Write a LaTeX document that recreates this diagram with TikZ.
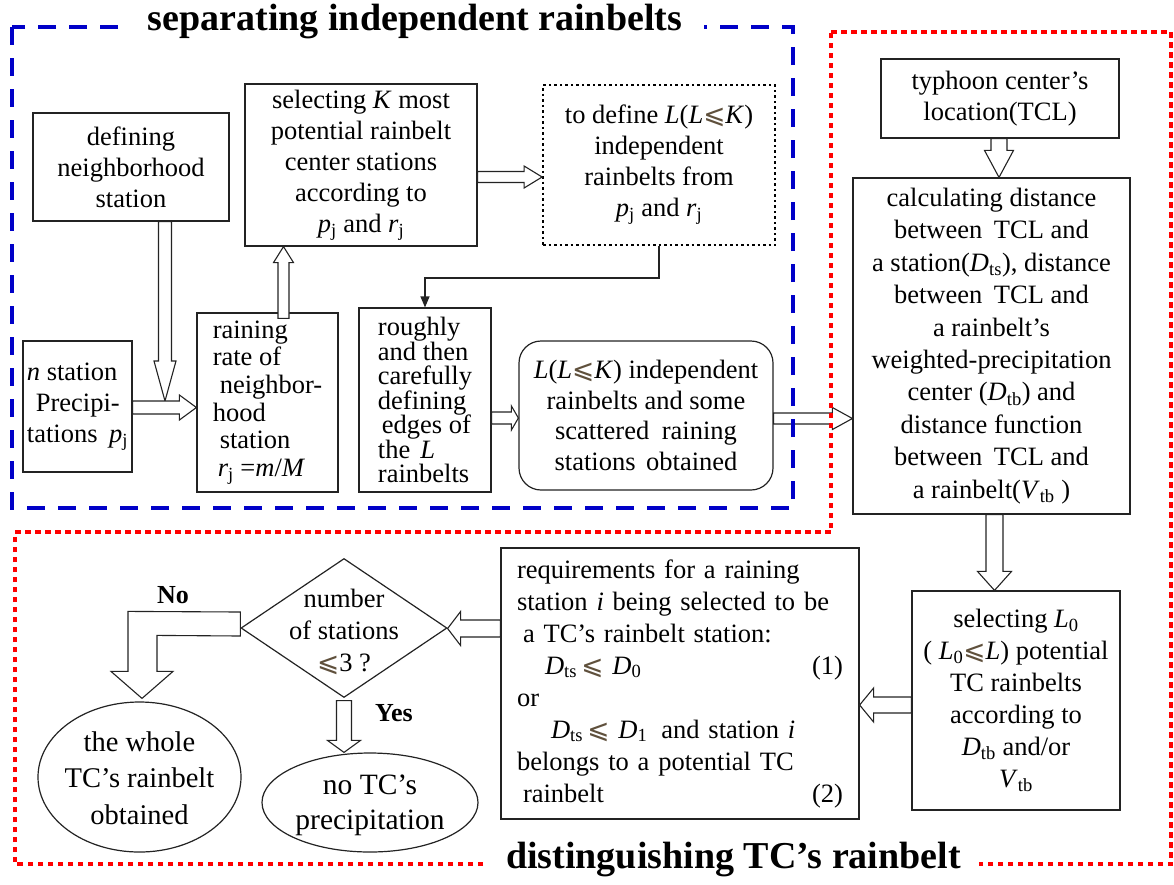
\documentclass[tikz,border=0pt]{standalone}
\usepackage{fontspec}
\setmainfont{Liberation Serif}
\newfontfamily\symfont{DejaVu Sans}
\usetikzlibrary{calc,shapes.geometric,arrows.meta}
\definecolor{bluedash}{RGB}{0,0,200}
\definecolor{reddot}{RGB}{255,0,0}
\definecolor{leqc}{RGB}{95,80,60}
\definecolor{boxline}{RGB}{35,35,35}
\newcommand\myleq{{\symfont\color{leqc}⩽}}
\newcommand\sj{\textsubscript{j}}
\newcommand\barrow[5]{%
  \coordinate (bs) at #1;
  \coordinate (be) at #2;
  \coordinate (bh) at ($(be)!#5pt!(bs)$);
  \draw[barrowline] ($(bs)!#3pt!90:(be)$) -- ($(bh)!#3pt!-90:(bs)$) -- ($(bh)!#4pt!-90:(bs)$) -- (be) -- ($(bh)!#4pt!90:(bs)$) -- ($(bh)!#3pt!90:(bs)$) -- ($(bs)!#3pt!-90:(be)$) -- cycle;}
\begin{document}
\begin{tikzpicture}[x=1pt,y=-1pt,
  box/.style={draw=boxline, line width=1.2pt, fill=white, inner sep=0pt, align=center, font=\fontsize{26.5}{31}\selectfont},
  barrowline/.style={draw=boxline, line width=1.1pt, fill=white, line join=miter},
  shapeline/.style={draw=boxline, line width=1.2pt, fill=white, inner sep=0pt},
  yesno/.style={inner sep=0pt, font=\bfseries\fontsize{26}{26}\selectfont},
  frametitle/.style={fill=white, inner ysep=1pt, font=\bfseries\fontsize{38}{38}\selectfont}]
\useasboundingbox (0,0) rectangle (1174,884);

% nodes
\node[box, minimum width=196pt, minimum height=108pt] (n1) at (131,167) {defining\\neighborhood\\station};
\node[box, minimum width=232pt, minimum height=162pt] (n2) at (361,165) {selecting \textit{K} most\\potential rainbelt\\center stations\\according to\\\textit{p}\sj{} and \textit{r}\sj};
\node[box, draw=black, dash pattern=on 2.5pt off 3pt, line width=1.8pt, minimum width=232pt, minimum height=160pt] (n3) at (659,165) {to define \textit{L}(\textit{L}\myleq\textit{K})\\independent\\rainbelts from\\\textit{p}\sj{} and \textit{r}\sj};
\node[box, align=left, minimum width=109pt, minimum height=131pt] (n4) at (77.5,406.5) {\textit{n} station\\\hspace*{9pt}Precipi-\\tations\hspace{5pt} \textit{p}\sj};
\node[box, align=left, font=\fontsize{26.5}{27.7}\selectfont, minimum width=141pt, minimum height=179pt] (n5) at (267.5,402.5) {raining\\rate of\\\hspace*{7pt}neighbor-\\hood\\\hspace*{7pt}station\\\hspace*{5pt}\textit{r}\sj{} =\textit{m}/\textit{M}};
\node[box, align=left, font=\fontsize{26.5}{24.5}\selectfont, minimum width=132pt, minimum height=184pt] (n6) at (425,400) {roughly\\and then\\carefully\\defining\\\hspace*{4pt}edges of\\the\hspace{10pt}\textit{L}\\rainbelts};
\node[box, rounded corners=22pt, font=\fontsize{26.5}{30.7}\selectfont, minimum width=254pt, minimum height=149pt] (n7) at (646,415.5) {\textit{L}(\textit{L}\myleq\textit{K}) independent\\rainbelts and some\\scattered\hspace{6pt} raining\\stations\hspace{4pt} obtained};
\node[box, minimum width=238pt, minimum height=79pt] (n8) at (1000,98.5) {typhoon center's\\location(TCL)};
\node[box, font=\fontsize{26.5}{32.4}\selectfont, minimum width=277pt, minimum height=336pt] (n9) at (991.5,346) {calculating distance\\between\hspace{5pt} TCL and\\a station(\textit{D}\textsubscript{ts}), distance\\between\hspace{5pt} TCL and\\a rainbelt's\\weighted-precipitation\\center (\textit{D}\textsubscript{tb}) and\\distance function\\between\hspace{5pt} TCL and\\a rainbelt(\textit{V}\textsubscript{tb} )};
\node[box, font=\fontsize{26.5}{32}\selectfont, minimum width=208pt, minimum height=219pt] (n10) at (1016,700.5) {selecting \textit{L}\textsubscript{0}\\( \textit{L}\textsubscript{0}\myleq\textit{L}) potential\\TC rainbelts\\according to\\\textit{D}\textsubscript{tb} and/or\\\textit{V}\textsubscript{tb}};
\node[box, align=left, text width=326pt, font=\fontsize{26.5}{32}\selectfont, minimum width=358pt, minimum height=271pt] (n11) at (680,683.5) {requirements for a raining\\station \textit{i} being selected to be\\\hspace*{6pt}a TC's rainbelt station:\\\hspace*{28pt}\textit{D}\textsubscript{ts}\,\myleq\ \textit{D}\textsubscript{0}\hskip0pt plus1filll(1)\\or\\\hspace*{34pt}\textit{D}\textsubscript{ts}\,\myleq\ \textit{D}\textsubscript{1}\hspace{14pt}and station \textit{i}\\belongs to a potential TC\\\hspace*{6pt}rainbelt\hskip0pt plus1filll(2)};

\node[shapeline, diamond, minimum width=206pt, minimum height=139pt] (dia) at (344,628) {};
\node[inner sep=0pt, align=center, font=\fontsize{26.5}{31.7}\selectfont] (dtxt) at (344,632) {number\\of stations\\\myleq3 ?};
\node[shapeline, ellipse, minimum width=203pt, minimum height=150pt] (e1) at (139.5,777) {};
\node[inner sep=0pt, align=center, font=\fontsize{28.5}{36.5}\selectfont] (e1t) at (139.5,778) {the whole\\TC's rainbelt\\obtained};
\node[shapeline, ellipse, minimum width=216pt, minimum height=99pt] (e2) at (370,802.5) {};
\node[inner sep=0pt, align=center, font=\fontsize{29.5}{35}\selectfont] (e2t) at (370,805) {no TC's\\precipitation};
\node[yesno] (no) at (173,595) {No};
\node[yesno] (yes) at (394,713) {Yes};

% block arrows
\coordinate (aS) at ($(n1.south)+(34,0)$);
\coordinate (aE) at ($(aS |- n4.east)+(0,-5.5)$);
\barrow{(aS)}{(aE)}{6.5}{11}{40}
\coordinate (bS) at ($(n4.east)+(0,1)$);
\coordinate (bE) at (bS -| n5.west);
\barrow{(bS)}{(bE)}{6.5}{12.5}{17}
\coordinate (cS) at ($(n5.north)+(16,6)$);
\coordinate (cE) at (cS |- n2.south);
\barrow{(cS)}{(cE)}{5.5}{10}{16}
\coordinate (dS) at ($(n2.east)+(0,12)$);
\coordinate (dE) at (dS -| n3.west);
\barrow{(dS)}{(dE)}{5.5}{11}{18}
\coordinate (fS) at ($(n6.east)+(0,18)$);
\coordinate (fE) at (fS -| n7.west);
\barrow{(fS)}{(fE)}{6}{12}{7}
\coordinate (gS) at ($(n7.east)+(0,3)$);
\coordinate (gE) at (gS -| n9.west);
\barrow{(gS)}{(gE)}{5.5}{11}{20}
\coordinate (hS) at ($(n8.south)+(-1,0)$);
\coordinate (hE) at (hS |- n9.north);
\barrow{(hS)}{(hE)}{8}{14.5}{27}
\coordinate (iS) at ($(n9.south)+(3,0)$);
\coordinate (iE) at (iS |- n10.north);
\barrow{(iS)}{(iE)}{8.5}{17}{19}
\coordinate (jS) at ($(n10.west)+(0,4.5)$);
\coordinate (jE) at (jS -| n11.east);
\barrow{(jS)}{(jE)}{8}{17}{14}
\coordinate (kS) at ($(n11.west)+(0,-55)$);
\coordinate (kE) at (kS -| dia.east);
\barrow{(kS)}{(kE)}{8.5}{17}{13}
\coordinate (mS) at ($(dia.south)+(0,2.5)$);
\coordinate (mE) at (mS |- e2.north);
\barrow{(mS)}{(mE)}{7.5}{16.5}{12}
% L-shaped "No" arrow
\coordinate (lT) at ($(e1.north)+(2.5,-3)$);
\draw[barrowline] ($(dia.west)+(0,-16)$) -- ($(lT)+(-14,-87)$) -- ($(lT)+(-14,-27)$) -- ($(lT)+(-31,-27)$) -- (lT) -- ($(lT)+(31,-27)$) -- ($(lT)+(15,-27)$) -- ($(lT)+(15,-63)$) -- ($(dia.west)+(0,8)$) -- cycle;

% thin connector
\draw[draw=boxline, line width=1.2pt, -{Triangle[length=11pt,width=9pt]}] (n3.south) -- ++(0,32) -| (n6.north);

% frames
\draw[bluedash, line width=3.5pt, dash pattern=on 18pt off 13pt] (12,27) rectangle (793,508);
\draw[reddot, line width=4pt, dash pattern=on 5.5pt off 4.5pt] (831,32) -- (1171,32) -- (1171,864) -- (15,864) -- (15,532) -- (831,532) -- cycle;
\node[frametitle, inner xsep=22pt] (t1) at (415,22) {separating independent rainbelts};
\node[frametitle, inner xsep=18pt] (t2) at (733.5,859) {distinguishing TC's rainbelt};
\end{tikzpicture}
\end{document}
